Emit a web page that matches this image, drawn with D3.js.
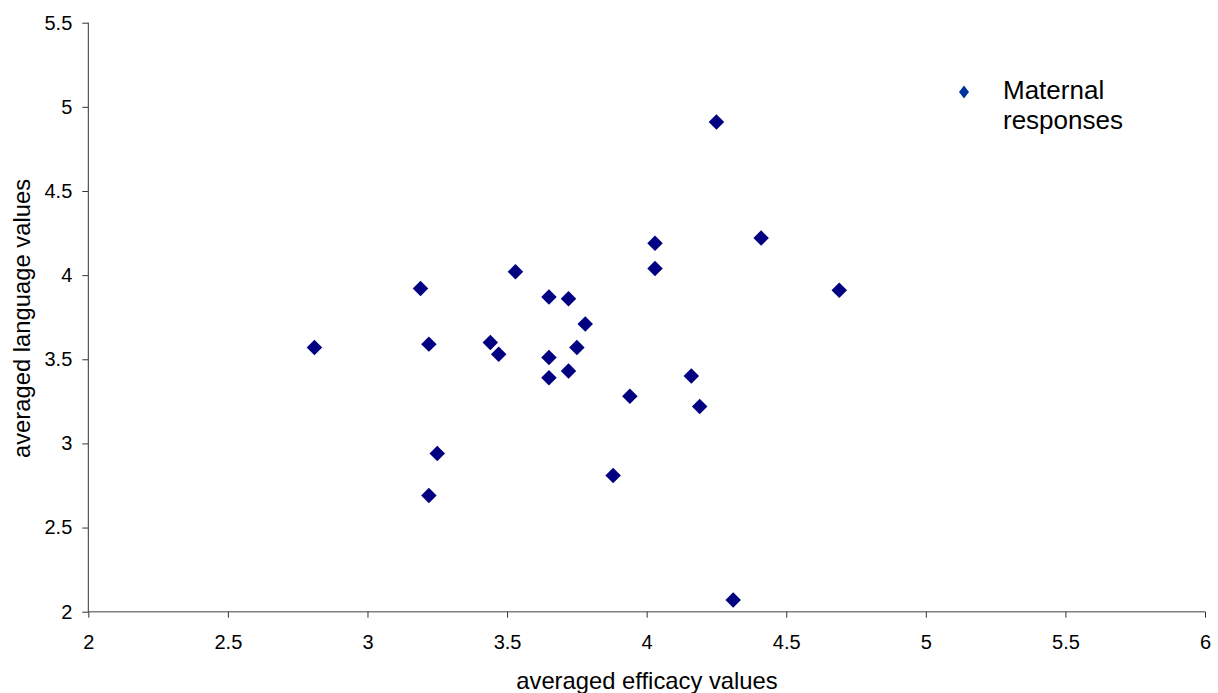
<!DOCTYPE html>
<html>
<head>
<meta charset="utf-8">
<script src="https://cdn.jsdelivr.net/npm/d3@7"></script>
<style>
  body { margin: 0; background: #fff; }
  svg { display: block; font-family: "Liberation Sans", Arial, sans-serif; }
</style>
</head>
<body>
<svg id="chart" width="1218" height="693"></svg>
<script>
// averaged efficacy (x) vs averaged language (y), maternal responses
const efficacy = [2.81, 3.19, 3.22, 3.25, 3.22, 3.44, 3.47, 3.53, 3.65, 3.72, 3.78, 3.65, 3.75,
                  3.65, 3.72, 3.88, 3.94, 4.03, 4.03, 4.25, 4.41, 4.16, 4.19, 4.31, 4.69];
const language = [3.57, 3.92, 3.59, 2.94, 2.69, 3.60, 3.53, 4.02, 3.87, 3.86, 3.71, 3.51, 3.57,
                  3.39, 3.43, 2.81, 3.28, 4.19, 4.04, 4.91, 4.22, 3.40, 3.22, 2.07, 3.91];
const xTicks = [2, 2.5, 3, 3.5, 4, 4.5, 5, 5.5, 6];
const yTicks = [2, 2.5, 3, 3.5, 4, 4.5, 5, 5.5];
const seriesName = ['Maternal', 'responses'];

const svg = d3.select('#chart');
const font = '"Liberation Sans", Arial, sans-serif';
const plotLeft = 88.3, plotRight = 1205, plotTop = 22.7, plotBottom = 611.7;

const x = d3.scaleLinear().domain([2, 6]).range([plotLeft, plotRight]);
const y = d3.scaleLinear().domain([2, 5.5]).range([plotBottom, plotTop]);

//axes
const gx = svg.append('g')
  .attr('transform', `translate(0,${plotBottom})`)
  .call(d3.axisBottom(x).tickValues(xTicks).tickFormat(d3.format('')).tickSize(6).tickPadding(17));
gx.attr('font-family', font);
gx.select('.domain').attr('d', `M${plotLeft},0H${plotRight}`).attr('stroke', '#808080').attr('stroke-width', 1.6);
gx.selectAll('.tick line').attr('stroke', '#333');
gx.selectAll('.tick text').attr('font-size', 20).attr('fill', '#000');

const gy = svg.append('g')
  .attr('transform', `translate(${plotLeft},0)`)
  .call(d3.axisLeft(y).tickValues(yTicks).tickFormat(d3.format('')).tickSize(6).tickPadding(10));
gy.attr('font-family', font);
gy.select('.domain').attr('d', `M0,${plotBottom}V${plotTop}`).attr('stroke', '#333');
gy.selectAll('.tick line').attr('stroke', '#333');
gy.selectAll('.tick text').attr('font-size', 20).attr('fill', '#000');

//axis titles
svg.append('text')
  .attr('x', 647).attr('y', 689)
  .attr('text-anchor', 'middle').attr('font-size', 23.8)
  .text('averaged efficacy values');

svg.append('text')
  .attr('transform', 'translate(30,318.5) rotate(-90)')
  .attr('text-anchor', 'middle').attr('font-size', 23.8)
  .text('averaged language values');

//points
const diamond = d3.symbol().type(d3.symbolSquare).size(120);
svg.append('g').selectAll('path')
  .data(efficacy.map((v, i) => [v, language[i]]))
  .join('path')
  .attr('d', diamond)
  .attr('transform', d => `translate(${x(d[0])},${y(d[1])}) rotate(45)`)
  .attr('fill', '#000080');

//legend
const legend = svg.append('g');
legend.append('path')
  .attr('d', 'M0,-6.5L5,0L0,6.5L-5,0Z')
  .attr('transform', 'translate(964,92)')
  .attr('fill', '#003399');
legend.selectAll('text')
  .data(seriesName)
  .join('text')
  .attr('x', 1003)
  .attr('y', (d, i) => 99 + i * 30)
  .attr('font-size', 26)
  .text(d => d);
</script>
</body>
</html>
